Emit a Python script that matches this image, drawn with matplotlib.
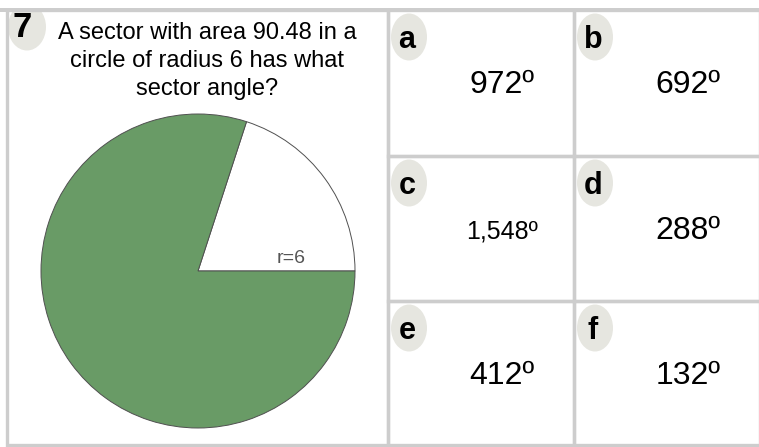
import matplotlib.pyplot as plt
from matplotlib.patches import Ellipse, Rectangle

plt.rcParams["font.family"] = ["Liberation Sans", "DejaVu Sans"]

W, H = 759, 447

QUESTION_NUMBER = "7"
QUESTION_LINES = ["A sector with area 90.48 in a", "circle of radius 6 has what", "sector angle?"]
SECTOR_ANGLES = [72, 288]          # white (unshaded) part, shaded sector
RADIUS_LABEL = "r=6"
CHOICE_LETTERS = ["a", "b", "c", "d", "e", "f"]
CHOICE_VALUES = ["972º", "692º", "1,548º", "288º", "412º", "132º"]

GREEN = "#699b66"
BORDER = "#cdcdcd"
BADGE = "#e6e6e0"

COL_X = [388, 574, 760]
ROW_Y = [10, 156, 301, 445]


def Y(y):
    """Image y (top-down) to axes y (bottom-up)."""
    return H - y


fig = plt.figure(figsize=(W / 100, H / 100), dpi=100)
ax = fig.add_axes([0, 0, 1, 1])

# pie chart in the left panel
ax.pie(
    SECTOR_ANGLES,
    colors=["white", GREEN],
    startangle=0,
    counterclock=True,
    center=(198, Y(271)),
    radius=157,
    wedgeprops=dict(edgecolor="#505050", linewidth=0.7),
)
ax.text(291, Y(263), RADIUS_LABEL, fontsize=14, color="#555555", ha="center", va="baseline")

# left panel frame + number badge
left = Rectangle((7, Y(445)), 381, 435, fill=False, edgecolor=BORDER, lw=2.4, zorder=5)
ax.add_patch(left)
badge = Ellipse((27, Y(27)), 38, 47, facecolor=BADGE, edgecolor="none", zorder=1)
ax.add_patch(badge)
badge.set_clip_path(Rectangle((8, Y(444)), 379, 433, transform=ax.transData))
ax.text(22, Y(37), QUESTION_NUMBER, fontsize=25, fontweight="bold", ha="center", va="baseline", zorder=3)

for i, line in enumerate(QUESTION_LINES):
    ax.text(207, Y(39 + 28 * i), line, fontsize=17, ha="center", va="baseline")

# answer cells
for k, (letter, value) in enumerate(zip(CHOICE_LETTERS, CHOICE_VALUES)):
    r, c = divmod(k, 2)
    x0, x1 = COL_X[c], COL_X[c + 1]
    y0, y1 = ROW_Y[r], ROW_Y[r + 1]
    ax.add_patch(Rectangle((x0, Y(y1)), x1 - x0, y1 - y0, fill=False,
                           edgecolor=BORDER, lw=2.4, zorder=5))
    ax.add_patch(Ellipse((x0 + 21, Y(y0 + 27)), 36, 47, facecolor=BADGE, edgecolor="none", zorder=1))
    ax.text(x0 + 19, Y(y0 + 38), letter, fontsize=22, fontweight="bold", ha="center", va="baseline", zorder=3)
    size = 18 if len(value) > 5 else 23
    ax.text(x0 + 114, Y(y0 + 83), value, fontsize=size, ha="center", va="baseline")

# top band across the whole width
ax.add_patch(Rectangle((0, Y(12)), W, 4, facecolor=BORDER, edgecolor="none", zorder=6))

ax.set_xlim(0, W)
ax.set_ylim(0, H)
ax.set_aspect("auto")
ax.axis("off")

fig.savefig("out.png", dpi=100)
